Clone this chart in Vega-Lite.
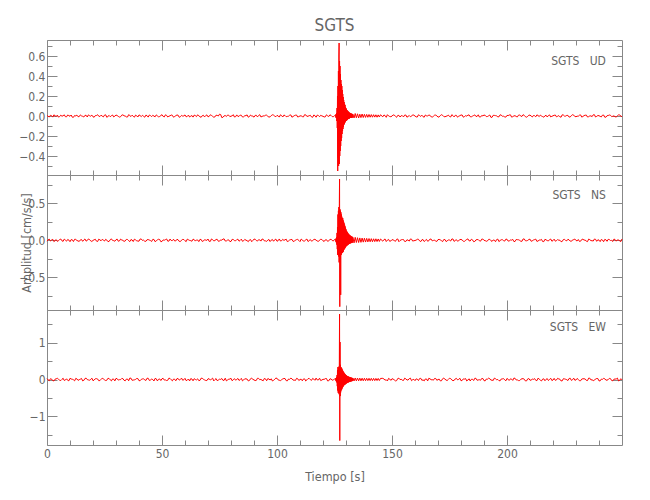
{
"$schema": "https://vega.github.io/schema/vega-lite/v6.json",
"background": "white",
"padding": {"left": 18, "top": 16, "right": 5, "bottom": 5},
"title": {"text": "SGTS", "fontSize": 17, "font": "DejaVu Sans Condensed, sans-serif", "fontWeight": "normal", "color": "#666", "offset": 5, "anchor": "middle", "frame": "group"},
"config": {
  "view": {"stroke": null},
  "axis": {"grid": false, "domainColor": "#888", "tickColor": "#888", "labelColor": "#666", "titleColor": "#666", "labelFont": "DejaVu Sans Condensed, sans-serif", "titleFont": "DejaVu Sans Condensed, sans-serif", "labelFontSize": 12, "titleFontSize": 12.5, "titleFontWeight": "normal", "labelFlush": false, "labelOverlap": false, "tickWidth": 1, "domainWidth": 1},
  "text": {"font": "DejaVu Sans Condensed, sans-serif"}
},
"data": {"values": [
{"t":0,"u":0.006,"n":-0.012,"e":0.025},{"t":1,"u":-0.009,"n":0.015,"e":-0.031},{"t":2,"u":0.003,"n":0.004,"e":0.012},{"t":3,"u":0.012,"n":-0.018,"e":-0.038},{"t":4,"u":-0.004,"n":0.009,"e":0.019},{"t":5,"u":-0.011,"n":-0.006,"e":0.006},{"t":6,"u":0.008,"n":0.017,"e":-0.027},{"t":7,"u":0.002,"n":-0.014,"e":0.035},{"t":8,"u":-0.007,"n":0.002,"e":-0.014},{"t":9,"u":0.010,"n":0.011,"e":-0.022},
{"t":10,"u":-0.003,"n":-0.019,"e":0.033},{"t":11,"u":-0.012,"n":0.007,"e":0.008},{"t":12,"u":0.005,"n":0.013,"e":-0.036},{"t":13,"u":0.009,"n":-0.003,"e":0.017},{"t":14,"u":-0.006,"n":-0.016,"e":-0.005},{"t":15,"u":0.001,"n":0.010,"e":0.029},{"t":16,"u":-0.010,"n":0.005,"e":-0.024},{"t":17,"u":0.007,"n":-0.011,"e":0.038},{"t":18,"u":0.011,"n":0.018,"e":-0.011},{"t":19,"u":-0.002,"n":-0.008,"e":0.002},
{"t":20,"u":-0.008,"n":-0.002,"e":-0.033},{"t":21,"u":0.004,"n":0.014,"e":0.021},{"t":22,"u":0.013,"n":-0.017,"e":0.015},{"t":23,"u":-0.005,"n":0.006,"e":-0.029},{"t":24,"u":-0.001,"n":0.012,"e":0.036},{"t":25,"u":0.009,"n":-0.010,"e":-0.008},{"t":26,"u":-0.013,"n":0.003,"e":-0.019},{"t":27,"u":0.006,"n":-0.015,"e":0.027},{"t":28,"u":0.003,"n":0.019,"e":-0.037},{"t":29,"u":-0.009,"n":-0.005,"e":0.010},
{"t":30,"u":0.010,"n":0.008,"e":0.031},{"t":31,"u":-0.004,"n":-0.013,"e":-0.016},{"t":32,"u":-0.007,"n":0.016,"e":-0.003},{"t":33,"u":0.012,"n":-0.001,"e":0.024},{"t":34,"u":0.000,"n":-0.009,"e":-0.035},{"t":35,"u":-0.010,"n":0.011,"e":0.013},{"t":36,"u":0.005,"n":-0.018,"e":0.039},{"t":37,"u":0.008,"n":0.004,"e":-0.021},{"t":38,"u":-0.012,"n":0.015,"e":-0.009},{"t":39,"u":0.002,"n":-0.007,"e":0.028},
{"t":40,"u":0.011,"n":-0.012,"e":-0.032},{"t":41,"u":-0.006,"n":0.017,"e":0.005},{"t":42,"u":-0.003,"n":0.002,"e":0.018},{"t":43,"u":0.009,"n":-0.014,"e":-0.026},{"t":44,"u":-0.011,"n":0.009,"e":0.034},{"t":45,"u":0.004,"n":-0.004,"e":-0.012},{"t":46,"u":0.007,"n":0.013,"e":-0.001},{"t":47,"u":-0.008,"n":-0.019,"e":0.030},{"t":48,"u":0.001,"n":0.006,"e":-0.038},{"t":49,"u":-0.005,"n":0.010,"e":0.016},
{"t":50,"u":0.013,"n":-0.016,"e":0.022},{"t":51,"u":-0.009,"n":0.001,"e":-0.015},{"t":52,"u":0.006,"n":0.018,"e":-0.028},{"t":53,"u":-0.002,"n":-0.011,"e":0.037},{"t":54,"u":0.010,"n":-0.003,"e":-0.006},{"t":55,"u":-0.012,"n":0.014,"e":0.011},{"t":56,"u":0.003,"n":-0.008,"e":-0.034},{"t":57,"u":0.008,"n":0.007,"e":0.026},{"t":58,"u":-0.007,"n":-0.017,"e":0.003},{"t":59,"u":-0.001,"n":0.012,"e":-0.020},
{"t":60,"u":0.011,"n":-0.006,"e":0.032},{"t":61,"u":-0.004,"n":0.016,"e":-0.017},{"t":62,"u":-0.010,"n":-0.002,"e":-0.039},{"t":63,"u":0.005,"n":-0.013,"e":0.014},{"t":64,"u":0.009,"n":0.009,"e":0.023},{"t":65,"u":-0.006,"n":0.005,"e":-0.010},{"t":66,"u":0.002,"n":-0.018,"e":-0.030},{"t":67,"u":-0.013,"n":0.011,"e":0.036},{"t":68,"u":0.007,"n":-0.010,"e":0.007},{"t":69,"u":0.004,"n":0.003,"e":-0.025},
{"t":70,"u":-0.008,"n":0.017,"e":0.019},{"t":71,"u":0.012,"n":-0.015,"e":-0.013},{"t":72,"u":-0.003,"n":0.008,"e":0.038},{"t":73,"u":-0.009,"n":-0.004,"e":-0.004},{"t":74,"u":0.006,"n":0.013,"e":-0.031},{"t":75,"u":0.018,"n":-0.012,"e":0.009},{"t":76,"u":-0.016,"n":0.001,"e":0.027},{"t":77,"u":0.001,"n":0.019,"e":-0.022},{"t":78,"u":-0.005,"n":-0.009,"e":-0.036},{"t":79,"u":0.008,"n":0.006,"e":0.015},
{"t":80,"u":-0.002,"n":-0.016,"e":0.033},{"t":81,"u":0.013,"n":0.010,"e":-0.007},{"t":82,"u":-0.007,"n":-0.007,"e":-0.018},{"t":83,"u":-0.004,"n":0.015,"e":0.029},{"t":84,"u":0.009,"n":-0.001,"e":-0.002},{"t":85,"u":-0.010,"n":-0.014,"e":-0.037},{"t":86,"u":0.003,"n":0.012,"e":0.021},{"t":87,"u":0.011,"n":-0.005,"e":0.012},{"t":88,"u":-0.006,"n":0.004,"e":-0.027},{"t":89,"u":0.000,"n":-0.019,"e":0.035},
{"t":90,"u":-0.012,"n":0.016,"e":-0.011},{"t":91,"u":0.007,"n":-0.003,"e":-0.024},{"t":92,"u":0.005,"n":0.008,"e":0.031},{"t":93,"u":-0.009,"n":-0.011,"e":0.004},{"t":94,"u":0.002,"n":0.014,"e":-0.033},{"t":95,"u":0.010,"n":-0.008,"e":0.017},{"t":96,"u":-0.003,"n":0.002,"e":0.025},{"t":97,"u":-0.008,"n":-0.017,"e":-0.014},{"t":98,"u":0.012,"n":0.011,"e":-0.039},{"t":99,"u":-0.001,"n":0.007,"e":0.008},
{"t":100,"u":0.006,"n":-0.013,"e":0.034},{"t":101,"u":-0.011,"n":0.018,"e":-0.020},{"t":102,"u":0.004,"n":-0.006,"e":-0.005},{"t":103,"u":0.009,"n":-0.002,"e":0.028},{"t":104,"u":-0.007,"n":0.015,"e":-0.030},{"t":105,"u":-0.002,"n":-0.010,"e":0.013},{"t":106,"u":0.011,"n":0.009,"e":0.037},{"t":107,"u":-0.005,"n":-0.015,"e":-0.016},{"t":108,"u":0.008,"n":0.003,"e":-0.026},{"t":109,"u":-0.010,"n":0.012,"e":0.022},
{"t":110,"u":0.001,"n":-0.018,"e":0.001},{"t":111,"u":-0.006,"n":0.006,"e":-0.035},{"t":112,"u":0.013,"n":-0.009,"e":0.018},{"t":113,"u":-0.004,"n":0.017,"e":-0.009},{"t":114,"u":0.003,"n":-0.004,"e":0.030},{"t":115,"u":-0.009,"n":-0.012,"e":-0.023},{"t":116,"u":0.010,"n":0.010,"e":0.010},{"t":117,"u":-0.012,"n":0.001,"e":0.039},{"t":118,"u":0.005,"n":-0.016,"e":-0.012},{"t":119,"u":0.007,"n":0.013,"e":-0.029},
{"t":120,"u":-0.003,"n":-0.007,"e":0.006},{"t":121,"u":-0.008,"n":0.005,"e":0.024},{"t":122,"u":0.002,"n":-0.014,"e":-0.038},{"t":123,"u":0.011,"n":0.009,"e":0.016},{"t":124,"u":-0.006,"n":-0.003,"e":-0.020},{"t":125,"u":0.004,"n":0.011,"e":0.012},
{"t":125.5,"u":0.010,"n":0.015,"e":0.030},{"t":125.6,"u":-0.015,"n":-0.020,"e":-0.035},{"t":125.7,"u":0.020,"n":0.025,"e":0.040},{"t":125.8,"u":-0.020,"n":-0.030,"e":-0.050},{"t":125.9,"u":0.030,"n":0.040,"e":0.060},
{"t":126.0,"u":-0.050,"n":-0.060,"e":-0.080},{"t":126.1,"u":0.080,"n":0.100,"e":0.120},{"t":126.2,"u":-0.120,"n":-0.120,"e":-0.180},{"t":126.3,"u":0.200,"n":0.180,"e":0.250},{"t":126.4,"u":-0.550,"n":-0.200,"e":-0.300},{"t":126.5,"u":0.300,"n":0.350,"e":0.340},{"t":126.6,"u":-0.420,"n":-0.180,"e":-0.360},{"t":126.7,"u":0.450,"n":0.400,"e":0.300},{"t":126.8,"u":-0.500,"n":-0.220,"e":-0.370},{"t":126.9,"u":0.600,"n":0.450,"e":0.350},
{"t":127.0,"u":0.730,"n":-0.300,"e":-0.400},{"t":127.1,"u":-0.480,"n":0.500,"e":0.500},{"t":127.2,"u":0.550,"n":0.830,"e":1.780},{"t":127.3,"u":-0.400,"n":-0.900,"e":-1.660},{"t":127.4,"u":0.500,"n":0.420,"e":1.020},{"t":127.5,"u":-0.350,"n":-0.250,"e":-0.450},{"t":127.6,"u":0.420,"n":0.400,"e":0.400},{"t":127.7,"u":-0.300,"n":-0.740,"e":-0.350},{"t":127.8,"u":0.360,"n":0.380,"e":0.340},{"t":127.9,"u":-0.250,"n":-0.200,"e":-0.300},
{"t":128.0,"u":0.320,"n":0.350,"e":0.320},{"t":128.1,"u":-0.220,"n":-0.180,"e":-0.280},{"t":128.2,"u":0.300,"n":0.320,"e":0.300},{"t":128.3,"u":-0.180,"n":-0.160,"e":-0.250},{"t":128.4,"u":0.260,"n":0.300,"e":0.270},{"t":128.5,"u":-0.150,"n":-0.170,"e":-0.220},{"t":128.6,"u":0.220,"n":0.300,"e":0.240},{"t":128.7,"u":-0.130,"n":-0.160,"e":-0.200},{"t":128.8,"u":0.190,"n":0.270,"e":0.220},{"t":128.9,"u":-0.110,"n":-0.150,"e":-0.180},
{"t":129.0,"u":0.160,"n":0.250,"e":0.200},{"t":129.1,"u":-0.090,"n":-0.130,"e":-0.160},{"t":129.2,"u":0.140,"n":0.230,"e":0.180},{"t":129.3,"u":-0.080,"n":-0.120,"e":-0.150},{"t":129.4,"u":0.120,"n":0.210,"e":0.160},{"t":129.5,"u":-0.070,"n":-0.110,"e":-0.140},{"t":129.6,"u":0.110,"n":0.190,"e":0.150},{"t":129.7,"u":-0.060,"n":-0.100,"e":-0.130},{"t":129.8,"u":0.090,"n":0.170,"e":0.130},{"t":129.9,"u":-0.050,"n":-0.090,"e":-0.120},
{"t":130.0,"u":0.080,"n":0.150,"e":0.120},{"t":130.1,"u":-0.050,"n":-0.080,"e":-0.110},{"t":130.2,"u":0.070,"n":0.130,"e":0.110},{"t":130.3,"u":-0.045,"n":-0.075,"e":-0.100},{"t":130.4,"u":0.060,"n":0.120,"e":0.100},{"t":130.5,"u":-0.040,"n":-0.070,"e":-0.090},{"t":130.6,"u":0.055,"n":0.110,"e":0.090},{"t":130.7,"u":-0.035,"n":-0.065,"e":-0.085},{"t":130.8,"u":0.050,"n":0.100,"e":0.085},{"t":130.9,"u":-0.030,"n":-0.060,"e":-0.080},
{"t":131.0,"u":0.045,"n":0.090,"e":0.080},{"t":131.1,"u":-0.030,"n":-0.055,"e":-0.075},{"t":131.2,"u":0.040,"n":0.085,"e":0.075},{"t":131.3,"u":-0.025,"n":-0.050,"e":-0.070},{"t":131.4,"u":0.035,"n":0.075,"e":0.070},{"t":131.5,"u":-0.025,"n":-0.050,"e":-0.065},{"t":131.6,"u":0.032,"n":0.070,"e":0.065},{"t":131.7,"u":-0.020,"n":-0.045,"e":-0.060},{"t":131.8,"u":0.030,"n":0.065,"e":0.060},{"t":131.9,"u":-0.020,"n":-0.040,"e":-0.055},
{"t":132.0,"u":0.028,"n":0.060,"e":0.055},{"t":132.1,"u":-0.018,"n":-0.040,"e":-0.050},{"t":132.2,"u":0.025,"n":0.055,"e":0.050},{"t":132.3,"u":-0.020,"n":-0.035,"e":-0.048},{"t":132.4,"u":0.022,"n":0.050,"e":0.048},{"t":132.5,"u":-0.015,"n":-0.035,"e":-0.045},{"t":132.6,"u":0.022,"n":0.050,"e":0.045},{"t":132.7,"u":-0.016,"n":-0.030,"e":-0.042},{"t":132.8,"u":0.020,"n":0.045,"e":0.042},{"t":132.9,"u":-0.014,"n":-0.030,"e":-0.040},
{"t":133.0,"u":0.018,"n":0.040,"e":0.040},{"t":133.5,"u":-0.020,"n":-0.035,"e":-0.040},{"t":134.0,"u":0.025,"n":0.040,"e":0.042},{"t":134.5,"u":-0.018,"n":-0.030,"e":-0.038},{"t":135.0,"u":0.022,"n":0.035,"e":0.040},{"t":135.5,"u":-0.020,"n":-0.030,"e":-0.036},{"t":136.0,"u":0.018,"n":0.032,"e":0.038},{"t":136.5,"u":-0.016,"n":-0.028,"e":-0.035},{"t":137.0,"u":0.020,"n":0.030,"e":0.036},{"t":137.5,"u":-0.015,"n":-0.025,"e":-0.034},
{"t":138.0,"u":0.017,"n":0.028,"e":0.035},{"t":138.5,"u":-0.014,"n":-0.024,"e":-0.032},{"t":139.0,"u":0.016,"n":0.026,"e":0.034},{"t":139.5,"u":-0.013,"n":-0.022,"e":-0.030},{"t":140.0,"u":0.015,"n":0.024,"e":0.033},{"t":140.5,"u":-0.012,"n":-0.020,"e":-0.030},{"t":141.0,"u":0.014,"n":0.022,"e":0.032},{"t":141.5,"u":-0.012,"n":-0.020,"e":-0.030},{"t":142.0,"u":0.013,"n":0.020,"e":0.031},{"t":142.5,"u":-0.011,"n":-0.018,"e":-0.030},
{"t":143.0,"u":0.012,"n":0.020,"e":0.030},{"t":143.5,"u":-0.012,"n":-0.017,"e":-0.028},{"t":144.0,"u":0.011,"n":0.018,"e":0.030},{"t":144.5,"u":-0.010,"n":-0.016,"e":-0.028},{"t":145.0,"u":0.012,"n":0.017,"e":0.030},
{"t":146,"u":-0.008,"n":-0.012,"e":0.032},{"t":147,"u":0.004,"n":0.017,"e":-0.017},{"t":148,"u":0.013,"n":0.002,"e":-0.039},{"t":149,"u":-0.005,"n":-0.014,"e":0.014},{"t":150,"u":-0.001,"n":0.009,"e":0.023},{"t":151,"u":0.009,"n":-0.004,"e":-0.010},{"t":152,"u":-0.013,"n":0.013,"e":-0.030},{"t":153,"u":0.006,"n":-0.019,"e":0.036},{"t":154,"u":0.003,"n":0.006,"e":0.007},{"t":155,"u":-0.009,"n":0.010,"e":-0.025},
{"t":156,"u":0.010,"n":-0.016,"e":0.019},{"t":157,"u":-0.004,"n":0.001,"e":-0.013},{"t":158,"u":-0.007,"n":0.018,"e":0.038},{"t":159,"u":0.012,"n":-0.011,"e":-0.004},{"t":160,"u":0.000,"n":-0.003,"e":-0.031},{"t":161,"u":-0.010,"n":0.014,"e":0.009},{"t":162,"u":0.005,"n":-0.008,"e":0.027},{"t":163,"u":0.008,"n":0.007,"e":-0.022},{"t":164,"u":-0.012,"n":-0.017,"e":-0.036},{"t":165,"u":0.002,"n":0.012,"e":0.015},
{"t":166,"u":0.011,"n":-0.006,"e":0.033},{"t":167,"u":-0.006,"n":0.016,"e":-0.007},{"t":168,"u":-0.003,"n":-0.002,"e":-0.018},{"t":169,"u":0.009,"n":-0.013,"e":0.029},{"t":170,"u":-0.011,"n":0.009,"e":-0.002},{"t":171,"u":0.004,"n":0.005,"e":-0.037},{"t":172,"u":0.007,"n":-0.018,"e":0.021},{"t":173,"u":-0.008,"n":0.011,"e":0.012},{"t":174,"u":0.001,"n":-0.010,"e":-0.027},{"t":175,"u":-0.005,"n":0.003,"e":0.035},
{"t":176,"u":0.013,"n":0.017,"e":-0.011},{"t":177,"u":-0.009,"n":-0.015,"e":-0.024},{"t":178,"u":0.006,"n":0.008,"e":0.031},{"t":179,"u":-0.002,"n":-0.004,"e":0.004},{"t":180,"u":0.010,"n":0.013,"e":-0.033},{"t":181,"u":-0.012,"n":-0.012,"e":0.017},{"t":182,"u":0.003,"n":0.001,"e":0.025},{"t":183,"u":0.008,"n":0.019,"e":-0.014},{"t":184,"u":-0.007,"n":-0.009,"e":-0.039},{"t":185,"u":-0.001,"n":0.006,"e":0.008},
{"t":186,"u":0.011,"n":-0.016,"e":0.034},{"t":187,"u":-0.004,"n":0.010,"e":-0.020},{"t":188,"u":-0.010,"n":-0.007,"e":-0.005},{"t":189,"u":0.005,"n":0.015,"e":0.028},{"t":190,"u":0.009,"n":-0.001,"e":-0.030},{"t":191,"u":-0.006,"n":-0.014,"e":0.013},{"t":192,"u":0.002,"n":0.012,"e":0.037},{"t":193,"u":-0.013,"n":-0.005,"e":-0.016},{"t":194,"u":0.007,"n":0.004,"e":-0.026},{"t":195,"u":0.004,"n":-0.019,"e":0.022},
{"t":196,"u":-0.008,"n":0.016,"e":0.001},{"t":197,"u":0.012,"n":-0.003,"e":-0.035},{"t":198,"u":-0.003,"n":0.008,"e":0.018},{"t":199,"u":-0.009,"n":-0.011,"e":-0.009},{"t":200,"u":0.006,"n":0.014,"e":0.030},{"t":201,"u":0.010,"n":-0.008,"e":-0.023},{"t":202,"u":-0.011,"n":0.002,"e":0.010},{"t":203,"u":0.001,"n":-0.017,"e":0.039},{"t":204,"u":-0.005,"n":0.011,"e":-0.012},{"t":205,"u":0.008,"n":0.007,"e":-0.029},
{"t":206,"u":-0.002,"n":-0.013,"e":0.006},{"t":207,"u":0.013,"n":0.018,"e":0.024},{"t":208,"u":-0.007,"n":-0.006,"e":-0.038},{"t":209,"u":-0.004,"n":-0.002,"e":0.016},{"t":210,"u":0.009,"n":0.015,"e":-0.020},{"t":211,"u":-0.010,"n":-0.010,"e":0.012},{"t":212,"u":0.003,"n":0.009,"e":0.025},{"t":213,"u":0.011,"n":-0.015,"e":-0.031},{"t":214,"u":-0.006,"n":0.003,"e":0.012},{"t":215,"u":0.000,"n":0.012,"e":-0.038},
{"t":216,"u":-0.012,"n":-0.018,"e":0.019},{"t":217,"u":0.007,"n":0.006,"e":0.006},{"t":218,"u":0.005,"n":-0.009,"e":-0.027},{"t":219,"u":-0.009,"n":0.017,"e":0.035},{"t":220,"u":0.002,"n":-0.004,"e":-0.014},{"t":221,"u":0.010,"n":-0.012,"e":-0.022},{"t":222,"u":-0.003,"n":0.010,"e":0.033},{"t":223,"u":-0.008,"n":0.001,"e":0.008},{"t":224,"u":0.012,"n":-0.016,"e":-0.036},{"t":225,"u":-0.001,"n":0.013,"e":0.017},
{"t":226,"u":0.006,"n":-0.007,"e":-0.005},{"t":227,"u":-0.011,"n":0.005,"e":0.029},{"t":228,"u":0.004,"n":-0.014,"e":-0.024},{"t":229,"u":0.009,"n":0.009,"e":0.038},{"t":230,"u":-0.007,"n":-0.003,"e":-0.011},{"t":231,"u":-0.002,"n":0.011,"e":0.002},{"t":232,"u":0.011,"n":-0.012,"e":-0.033},{"t":233,"u":-0.005,"n":0.015,"e":0.021},{"t":234,"u":0.008,"n":0.004,"e":0.015},{"t":235,"u":-0.010,"n":-0.018,"e":-0.029},
{"t":236,"u":0.001,"n":0.009,"e":0.036},{"t":237,"u":-0.006,"n":-0.006,"e":-0.008},{"t":238,"u":0.013,"n":0.017,"e":-0.019},{"t":239,"u":-0.004,"n":-0.014,"e":0.027},{"t":240,"u":0.003,"n":0.002,"e":-0.037},{"t":241,"u":-0.009,"n":0.011,"e":0.010},{"t":242,"u":0.010,"n":-0.019,"e":0.031},{"t":243,"u":-0.012,"n":0.007,"e":-0.016},{"t":244,"u":0.005,"n":0.013,"e":-0.003},{"t":245,"u":0.007,"n":-0.003,"e":0.024},
{"t":246,"u":-0.003,"n":-0.016,"e":-0.035},{"t":247,"u":-0.008,"n":0.010,"e":0.013},{"t":248,"u":0.002,"n":0.005,"e":0.039},{"t":249,"u":0.011,"n":-0.011,"e":-0.021},{"t":250,"u":-0.006,"n":0.018,"e":-0.009},
{"t":0.5,"u":-0.004,"n":0.008,"e":-0.012},{"t":1.5,"u":0.007,"n":-0.010,"e":0.022},{"t":2.5,"u":-0.011,"n":0.013,"e":-0.030},{"t":3.5,"u":0.002,"n":-0.004,"e":0.009},{"t":4.5,"u":0.009,"n":-0.015,"e":0.034},{"t":5.5,"u":-0.006,"n":0.011,"e":-0.018},{"t":6.5,"u":-0.002,"n":-0.007,"e":0.004},{"t":7.5,"u":0.012,"n":0.016,"e":-0.026},{"t":8.5,"u":-0.008,"n":-0.012,"e":0.020},{"t":9.5,"u":0.004,"n":0.003,"e":-0.035},
{"t":10.5,"u":0.010,"n":0.009,"e":0.014},{"t":11.5,"u":-0.013,"n":-0.017,"e":-0.007},{"t":12.5,"u":0.001,"n":0.012,"e":0.031},{"t":13.5,"u":-0.007,"n":-0.009,"e":-0.023},{"t":14.5,"u":0.011,"n":0.005,"e":0.010},{"t":15.5,"u":-0.003,"n":-0.014,"e":-0.037},{"t":16.5,"u":0.006,"n":0.018,"e":0.027},{"t":17.5,"u":-0.010,"n":-0.003,"e":-0.002},{"t":18.5,"u":0.003,"n":0.010,"e":-0.019},{"t":19.5,"u":0.009,"n":-0.016,"e":0.036},
{"t":20.5,"u":-0.012,"n":0.007,"e":-0.013},{"t":21.5,"u":0.005,"n":-0.011,"e":0.024},{"t":22.5,"u":-0.002,"n":0.015,"e":-0.032},{"t":23.5,"u":0.008,"n":-0.006,"e":0.005},{"t":24.5,"u":-0.009,"n":0.002,"e":0.018},{"t":25.5,"u":0.012,"n":0.013,"e":-0.028},{"t":26.5,"u":-0.004,"n":-0.018,"e":0.033},{"t":27.5,"u":-0.007,"n":0.009,"e":-0.009},{"t":28.5,"u":0.010,"n":-0.002,"e":0.015},{"t":29.5,"u":-0.001,"n":-0.013,"e":-0.038},
{"t":30.5,"u":0.005,"n":0.016,"e":0.022},{"t":31.5,"u":-0.011,"n":-0.008,"e":-0.004},{"t":32.5,"u":0.008,"n":0.004,"e":0.029},{"t":33.5,"u":0.002,"n":-0.015,"e":-0.021},{"t":34.5,"u":-0.009,"n":0.012,"e":0.011},{"t":35.5,"u":0.013,"n":-0.005,"e":-0.034},{"t":36.5,"u":-0.005,"n":0.010,"e":0.037},{"t":37.5,"u":-0.003,"n":-0.017,"e":-0.015},{"t":38.5,"u":0.009,"n":0.006,"e":0.003},{"t":39.5,"u":-0.010,"n":-0.010,"e":0.026},
{"t":40.5,"u":0.004,"n":0.018,"e":-0.031},{"t":41.5,"u":0.007,"n":-0.002,"e":0.017},{"t":42.5,"u":-0.012,"n":-0.013,"e":-0.008},{"t":43.5,"u":0.003,"n":0.008,"e":0.035},{"t":44.5,"u":0.010,"n":0.003,"e":-0.025},{"t":45.5,"u":-0.006,"n":-0.016,"e":0.012},{"t":46.5,"u":-0.001,"n":0.011,"e":-0.039},{"t":47.5,"u":0.011,"n":-0.007,"e":0.020},{"t":48.5,"u":-0.008,"n":0.014,"e":0.006},{"t":49.5,"u":0.005,"n":-0.019,"e":-0.027},
{"t":50.5,"u":-0.004,"n":0.005,"e":0.032},{"t":51.5,"u":0.012,"n":0.009,"e":-0.011},{"t":52.5,"u":-0.010,"n":-0.012,"e":-0.020},{"t":53.5,"u":0.002,"n":0.017,"e":0.028},{"t":54.5,"u":0.007,"n":-0.004,"e":-0.036},{"t":55.5,"u":-0.005,"n":-0.009,"e":0.009},{"t":56.5,"u":0.010,"n":0.013,"e":0.023},{"t":57.5,"u":-0.013,"n":-0.015,"e":-0.016},{"t":58.5,"u":0.006,"n":0.002,"e":0.038},{"t":59.5,"u":0.001,"n":0.010,"e":-0.006},
{"t":60.5,"u":-0.008,"n":-0.018,"e":-0.030},{"t":61.5,"u":0.009,"n":0.007,"e":0.014},{"t":62.5,"u":-0.002,"n":-0.005,"e":0.025},{"t":63.5,"u":-0.011,"n":0.015,"e":-0.035},{"t":64.5,"u":0.004,"n":-0.011,"e":0.001},{"t":65.5,"u":0.012,"n":0.004,"e":0.019},{"t":66.5,"u":-0.007,"n":0.012,"e":-0.024},{"t":67.5,"u":0.003,"n":-0.016,"e":0.033},{"t":68.5,"u":-0.009,"n":0.008,"e":-0.010},{"t":69.5,"u":0.011,"n":-0.001,"e":-0.029},
{"t":70.5,"u":-0.004,"n":-0.014,"e":0.021},{"t":71.5,"u":0.006,"n":0.018,"e":0.008},{"t":72.5,"u":-0.012,"n":-0.007,"e":-0.037},{"t":73.5,"u":0.008,"n":0.011,"e":0.027},{"t":74.5,"u":0.000,"n":-0.013,"e":-0.014},{"t":75.5,"u":0.015,"n":0.006,"e":0.004},{"t":76.5,"u":-0.013,"n":0.016,"e":-0.022},{"t":77.5,"u":0.005,"n":-0.010,"e":0.036},{"t":78.5,"u":0.009,"n":0.003,"e":-0.018},{"t":79.5,"u":-0.006,"n":-0.017,"e":0.011},
{"t":80.5,"u":0.002,"n":0.013,"e":-0.033},{"t":81.5,"u":-0.010,"n":-0.004,"e":0.024},{"t":82.5,"u":0.011,"n":0.009,"e":0.002},{"t":83.5,"u":-0.003,"n":-0.012,"e":-0.026},{"t":84.5,"u":0.007,"n":0.015,"e":0.031},{"t":85.5,"u":-0.008,"n":-0.006,"e":-0.012},{"t":86.5,"u":0.004,"n":0.001,"e":0.017},{"t":87.5,"u":-0.012,"n":-0.019,"e":-0.038},{"t":88.5,"u":0.010,"n":0.010,"e":0.022},{"t":89.5,"u":-0.001,"n":-0.003,"e":0.007},
{"t":90.5,"u":0.006,"n":0.014,"e":-0.028},{"t":91.5,"u":-0.009,"n":-0.011,"e":0.034},{"t":92.5,"u":0.013,"n":0.005,"e":-0.005},{"t":93.5,"u":-0.005,"n":0.017,"e":-0.019},{"t":94.5,"u":-0.002,"n":-0.008,"e":0.029},{"t":95.5,"u":0.008,"n":-0.015,"e":-0.033},{"t":96.5,"u":-0.011,"n":0.011,"e":0.013},{"t":97.5,"u":0.004,"n":0.002,"e":0.020},{"t":98.5,"u":0.009,"n":-0.013,"e":-0.024},{"t":99.5,"u":-0.007,"n":0.016,"e":0.038},
{"t":100.5,"u":0.001,"n":-0.005,"e":-0.010},{"t":101.5,"u":0.012,"n":-0.010,"e":-0.030},{"t":102.5,"u":-0.010,"n":0.013,"e":0.016},{"t":103.5,"u":0.005,"n":0.007,"e":0.026},{"t":104.5,"u":-0.004,"n":-0.018,"e":-0.036},{"t":105.5,"u":0.008,"n":0.004,"e":0.005},{"t":106.5,"u":-0.012,"n":0.012,"e":0.021},{"t":107.5,"u":0.003,"n":-0.014,"e":-0.017},{"t":108.5,"u":0.010,"n":0.009,"e":0.032},{"t":109.5,"u":-0.006,"n":-0.002,"e":-0.027},
{"t":110.5,"u":0.002,"n":0.016,"e":0.009},{"t":111.5,"u":-0.009,"n":-0.012,"e":0.015},{"t":112.5,"u":0.011,"n":0.006,"e":-0.039},{"t":113.5,"u":-0.002,"n":-0.017,"e":0.023},{"t":114.5,"u":0.007,"n":0.010,"e":-0.003},{"t":115.5,"u":-0.013,"n":-0.004,"e":0.030},{"t":116.5,"u":0.004,"n":0.014,"e":-0.021},{"t":117.5,"u":0.009,"n":-0.009,"e":-0.011},{"t":118.5,"u":-0.007,"n":0.003,"e":0.036},{"t":119.5,"u":0.001,"n":0.011,"e":-0.015},
{"t":120.5,"u":-0.010,"n":-0.016,"e":0.004},{"t":121.5,"u":0.012,"n":0.008,"e":0.027},{"t":122.5,"u":-0.005,"n":-0.006,"e":-0.034},{"t":123.5,"u":0.006,"n":0.015,"e":0.018},{"t":124.5,"u":-0.008,"n":-0.010,"e":-0.008},
{"t":146.5,"u":0.010,"n":0.009,"e":0.014},{"t":147.5,"u":-0.013,"n":-0.017,"e":-0.007},{"t":148.5,"u":0.001,"n":0.012,"e":0.031},{"t":149.5,"u":-0.007,"n":-0.009,"e":-0.023},{"t":150.5,"u":0.011,"n":0.005,"e":0.010},{"t":151.5,"u":-0.003,"n":-0.014,"e":-0.037},{"t":152.5,"u":0.006,"n":0.018,"e":0.027},{"t":153.5,"u":-0.010,"n":-0.003,"e":-0.002},{"t":154.5,"u":0.003,"n":0.010,"e":-0.019},{"t":155.5,"u":0.009,"n":-0.016,"e":0.036},
{"t":156.5,"u":-0.012,"n":0.007,"e":-0.013},{"t":157.5,"u":0.005,"n":-0.011,"e":0.024},{"t":158.5,"u":-0.002,"n":0.015,"e":-0.032},{"t":159.5,"u":0.008,"n":-0.006,"e":0.005},{"t":160.5,"u":-0.009,"n":0.002,"e":0.018},{"t":161.5,"u":0.012,"n":0.013,"e":-0.028},{"t":162.5,"u":-0.004,"n":-0.018,"e":0.033},{"t":163.5,"u":-0.007,"n":0.009,"e":-0.009},{"t":164.5,"u":0.010,"n":-0.002,"e":0.015},{"t":165.5,"u":-0.001,"n":-0.013,"e":-0.038},
{"t":166.5,"u":0.005,"n":0.016,"e":0.022},{"t":167.5,"u":-0.011,"n":-0.008,"e":-0.004},{"t":168.5,"u":0.008,"n":0.004,"e":0.029},{"t":169.5,"u":0.002,"n":-0.015,"e":-0.021},{"t":170.5,"u":-0.009,"n":0.012,"e":0.011},{"t":171.5,"u":0.013,"n":-0.005,"e":-0.034},{"t":172.5,"u":-0.005,"n":0.010,"e":0.037},{"t":173.5,"u":-0.003,"n":-0.017,"e":-0.015},{"t":174.5,"u":0.009,"n":0.006,"e":0.003},{"t":175.5,"u":-0.010,"n":-0.010,"e":0.026},
{"t":176.5,"u":0.004,"n":0.018,"e":-0.031},{"t":177.5,"u":0.007,"n":-0.002,"e":0.017},{"t":178.5,"u":-0.012,"n":-0.013,"e":-0.008},{"t":179.5,"u":0.003,"n":0.008,"e":0.035},{"t":180.5,"u":0.010,"n":0.003,"e":-0.025},{"t":181.5,"u":-0.006,"n":-0.016,"e":0.012},{"t":182.5,"u":-0.001,"n":0.011,"e":-0.039},{"t":183.5,"u":0.011,"n":-0.007,"e":0.020},{"t":184.5,"u":-0.008,"n":0.014,"e":0.006},{"t":185.5,"u":0.005,"n":-0.019,"e":-0.027},
{"t":186.5,"u":-0.004,"n":0.005,"e":0.032},{"t":187.5,"u":0.012,"n":0.009,"e":-0.011},{"t":188.5,"u":-0.010,"n":-0.012,"e":-0.020},{"t":189.5,"u":0.002,"n":0.017,"e":0.028},{"t":190.5,"u":0.007,"n":-0.004,"e":-0.036},{"t":191.5,"u":-0.005,"n":-0.009,"e":0.009},{"t":192.5,"u":0.010,"n":0.013,"e":0.023},{"t":193.5,"u":-0.013,"n":-0.015,"e":-0.016},{"t":194.5,"u":0.006,"n":0.002,"e":0.038},{"t":195.5,"u":0.001,"n":0.010,"e":-0.006},
{"t":196.5,"u":-0.008,"n":-0.018,"e":-0.030},{"t":197.5,"u":0.009,"n":0.007,"e":0.014},{"t":198.5,"u":-0.002,"n":-0.005,"e":0.025},{"t":199.5,"u":-0.011,"n":0.015,"e":-0.035},{"t":200.5,"u":0.004,"n":-0.011,"e":0.001},{"t":201.5,"u":0.012,"n":0.004,"e":0.019},{"t":202.5,"u":-0.007,"n":0.012,"e":-0.024},{"t":203.5,"u":0.003,"n":-0.016,"e":0.033},{"t":204.5,"u":-0.009,"n":0.008,"e":-0.010},{"t":205.5,"u":0.011,"n":-0.001,"e":-0.029},
{"t":206.5,"u":-0.004,"n":-0.014,"e":0.021},{"t":207.5,"u":0.006,"n":0.018,"e":0.008},{"t":208.5,"u":-0.012,"n":-0.007,"e":-0.037},{"t":209.5,"u":0.008,"n":0.011,"e":0.027},{"t":210.5,"u":0.000,"n":-0.013,"e":-0.014},{"t":211.5,"u":0.005,"n":0.006,"e":0.004},{"t":212.5,"u":-0.008,"n":0.016,"e":-0.022},{"t":213.5,"u":0.005,"n":-0.010,"e":0.036},{"t":214.5,"u":0.009,"n":0.003,"e":-0.018},{"t":215.5,"u":-0.006,"n":-0.017,"e":0.011},
{"t":216.5,"u":0.002,"n":0.013,"e":-0.033},{"t":217.5,"u":-0.010,"n":-0.004,"e":0.024},{"t":218.5,"u":0.011,"n":0.009,"e":0.002},{"t":219.5,"u":-0.003,"n":-0.012,"e":-0.026},{"t":220.5,"u":0.007,"n":0.015,"e":0.031},{"t":221.5,"u":-0.008,"n":-0.006,"e":-0.012},{"t":222.5,"u":0.004,"n":0.001,"e":0.017},{"t":223.5,"u":-0.012,"n":-0.019,"e":-0.038},{"t":224.5,"u":0.010,"n":0.010,"e":0.022},{"t":225.5,"u":-0.001,"n":-0.003,"e":0.007},
{"t":226.5,"u":0.006,"n":0.014,"e":-0.028},{"t":227.5,"u":-0.009,"n":-0.011,"e":0.034},{"t":228.5,"u":0.013,"n":0.005,"e":-0.005},{"t":229.5,"u":-0.005,"n":0.017,"e":-0.019},{"t":230.5,"u":-0.002,"n":-0.008,"e":0.029},{"t":231.5,"u":0.008,"n":-0.015,"e":-0.033},{"t":232.5,"u":-0.011,"n":0.011,"e":0.013},{"t":233.5,"u":0.004,"n":0.002,"e":0.020},{"t":234.5,"u":0.009,"n":-0.013,"e":-0.024},{"t":235.5,"u":-0.007,"n":0.016,"e":0.038},
{"t":236.5,"u":0.001,"n":-0.005,"e":-0.010},{"t":237.5,"u":0.012,"n":-0.010,"e":-0.030},{"t":238.5,"u":-0.010,"n":0.013,"e":0.016},{"t":239.5,"u":0.005,"n":0.007,"e":0.026},{"t":240.5,"u":-0.004,"n":-0.018,"e":-0.036},{"t":241.5,"u":0.008,"n":0.004,"e":0.005},{"t":242.5,"u":-0.012,"n":0.012,"e":0.021},{"t":243.5,"u":0.003,"n":-0.014,"e":-0.017},{"t":244.5,"u":0.010,"n":0.009,"e":0.032},{"t":245.5,"u":-0.006,"n":-0.002,"e":-0.027},
{"t":246.5,"u":0.002,"n":0.016,"e":0.009},{"t":247.5,"u":-0.009,"n":-0.012,"e":0.015},{"t":248.5,"u":0.011,"n":0.006,"e":-0.039},{"t":249.5,"u":-0.002,"n":-0.017,"e":0.023}
]},
"spacing": 0,
"bounds": "flush",
"vconcat": [
 {
  "width": 575, "height": 135,
  "layer": [
   {"mark": {"type": "line", "color": "#ff0000", "strokeWidth": 1},
    "encoding": {
     "x": {"field": "t", "type": "quantitative", "scale": {"domain": [0, 250], "nice": false, "zero": false},
           "axis": {"orient": "bottom", "values": [0,10,20,30,40,50,60,70,80,90,100,110,120,130,140,150,160,170,180,190,200,210,220,230,240], "tickSize": {"condition": {"test": "datum.value % 50 === 0", "value": -10}, "value": -5}, "labels": false, "title": null}},
     "y": {"field": "u", "type": "quantitative", "scale": {"domain": [-0.59, 0.76], "nice": false, "zero": false},
           "axis": {"orient": "left", "values": [-0.5,-0.4,-0.3,-0.2,-0.1,0,0.1,0.2,0.3,0.4,0.5,0.6,0.7], "format": ".1f", "tickSize": {"condition": {"test": "abs(datum.value*5 - round(datum.value*5)) < 0.01", "value": -10}, "value": -5}, "labelExpr": "abs(datum.value*5 - round(datum.value*5)) < 0.01 ? datum.label : ''", "labelPadding": 12, "title": null}}
    }},
   {"mark": {"type": "line", "strokeOpacity": 0},
    "encoding": {
     "x": {"field": "t", "type": "quantitative",
           "axis": {"orient": "top", "values": [0,10,20,30,40,50,60,70,80,90,100,110,120,130,140,150,160,170,180,190,200,210,220,230,240], "tickSize": {"condition": {"test": "datum.value % 50 === 0", "value": -10}, "value": -5}, "labels": false, "title": null}},
     "y": {"field": "u", "type": "quantitative",
           "axis": {"orient": "right", "values": [-0.5,-0.4,-0.3,-0.2,-0.1,0,0.1,0.2,0.3,0.4,0.5,0.6,0.7], "tickSize": {"condition": {"test": "abs(datum.value*5 - round(datum.value*5)) < 0.01", "value": -10}, "value": -5}, "labels": false, "title": null}}
    }},
   {"data": {"values": [{"label": "SGTS\u00a0\u00a0\u00a0UD"}]},
    "mark": {"type": "text", "align": "right", "baseline": "middle", "fontSize": 12, "color": "#666"},
    "encoding": {
     "x": {"datum": 243, "type": "quantitative", "axis": null},
     "y": {"datum": 0.55, "type": "quantitative", "axis": null},
     "text": {"field": "label"}
    }}
  ],
  "resolve": {"axis": {"x": "independent", "y": "independent"}}
 },
 {
  "width": 575, "height": 135,
  "layer": [
   {"mark": {"type": "line", "color": "#ff0000", "strokeWidth": 1},
    "encoding": {
     "x": {"field": "t", "type": "quantitative", "scale": {"domain": [0, 250], "nice": false, "zero": false},
           "axis": {"orient": "bottom", "values": [0,10,20,30,40,50,60,70,80,90,100,110,120,130,140,150,160,170,180,190,200,210,220,230,240], "tickSize": {"condition": {"test": "datum.value % 50 === 0", "value": -10}, "value": -5}, "labels": false, "title": null}},
     "y": {"field": "n", "type": "quantitative", "scale": {"domain": [-0.945, 0.885], "nice": false, "zero": false},
           "axis": {"orient": "left", "values": [-0.75,-0.5,-0.25,0,0.25,0.5,0.75], "format": ".1f", "tickSize": {"condition": {"test": "abs(datum.value*2 - round(datum.value*2)) < 0.01", "value": -10}, "value": -5}, "labelExpr": "abs(datum.value*2 - round(datum.value*2)) < 0.01 ? datum.label : ''", "labelPadding": 12, "title": "Amplitud [cm/s/s]", "titleX": -14, "titleY": 67.5, "titleBaseline": "bottom", "titleAngle": -90}}
    }},
   {"mark": {"type": "line", "strokeOpacity": 0},
    "encoding": {
     "x": {"field": "t", "type": "quantitative",
           "axis": {"orient": "top", "values": [0,10,20,30,40,50,60,70,80,90,100,110,120,130,140,150,160,170,180,190,200,210,220,230,240], "tickSize": {"condition": {"test": "datum.value % 50 === 0", "value": -10}, "value": -5}, "labels": false, "title": null}},
     "y": {"field": "n", "type": "quantitative",
           "axis": {"orient": "right", "values": [-0.75,-0.5,-0.25,0,0.25,0.5,0.75], "tickSize": {"condition": {"test": "abs(datum.value*2 - round(datum.value*2)) < 0.01", "value": -10}, "value": -5}, "labels": false, "title": null}}
    }},
   {"data": {"values": [{"label": "SGTS\u00a0\u00a0\u00a0NS"}]},
    "mark": {"type": "text", "align": "right", "baseline": "middle", "fontSize": 12, "color": "#666"},
    "encoding": {
     "x": {"datum": 243, "type": "quantitative", "axis": null},
     "y": {"datum": 0.62, "type": "quantitative", "axis": null},
     "text": {"field": "label"}
    }}
  ],
  "resolve": {"axis": {"x": "independent", "y": "independent"}}
 },
 {
  "width": 575, "height": 135,
  "layer": [
   {"mark": {"type": "line", "color": "#ff0000", "strokeWidth": 1},
    "encoding": {
     "x": {"field": "t", "type": "quantitative", "scale": {"domain": [0, 250], "nice": false, "zero": false},
           "axis": {"orient": "bottom", "values": [0,10,20,30,40,50,60,70,80,90,100,110,120,130,140,150,160,170,180,190,200,210,220,230,240], "tickSize": {"condition": {"test": "datum.value % 50 === 0", "value": -10}, "value": -5}, "labelExpr": "datum.value % 50 === 0 ? datum.label : ''", "labelPadding": 13, "title": "Tiempo [s]", "titlePadding": 6}},
     "y": {"field": "e", "type": "quantitative", "scale": {"domain": [-1.78, 1.89], "nice": false, "zero": false},
           "axis": {"orient": "left", "values": [-1.5,-1,-0.5,0,0.5,1,1.5], "format": ".0f", "tickSize": {"condition": {"test": "abs(datum.value - round(datum.value)) < 0.01", "value": -10}, "value": -5}, "labelExpr": "abs(datum.value - round(datum.value)) < 0.01 ? datum.label : ''", "labelPadding": 12, "title": null}}
    }},
   {"mark": {"type": "line", "strokeOpacity": 0},
    "encoding": {
     "x": {"field": "t", "type": "quantitative",
           "axis": {"orient": "top", "values": [0,10,20,30,40,50,60,70,80,90,100,110,120,130,140,150,160,170,180,190,200,210,220,230,240], "tickSize": {"condition": {"test": "datum.value % 50 === 0", "value": -10}, "value": -5}, "labels": false, "title": null}},
     "y": {"field": "e", "type": "quantitative",
           "axis": {"orient": "right", "values": [-1.5,-1,-0.5,0,0.5,1,1.5], "tickSize": {"condition": {"test": "abs(datum.value - round(datum.value)) < 0.01", "value": -10}, "value": -5}, "labels": false, "title": null}}
    }},
   {"data": {"values": [{"label": "SGTS\u00a0\u00a0\u00a0EW"}]},
    "mark": {"type": "text", "align": "right", "baseline": "middle", "fontSize": 12, "color": "#666"},
    "encoding": {
     "x": {"datum": 243, "type": "quantitative", "axis": null},
     "y": {"datum": 1.43, "type": "quantitative", "axis": null},
     "text": {"field": "label"}
    }}
  ],
  "resolve": {"axis": {"x": "independent", "y": "independent"}}
 }
]
}
